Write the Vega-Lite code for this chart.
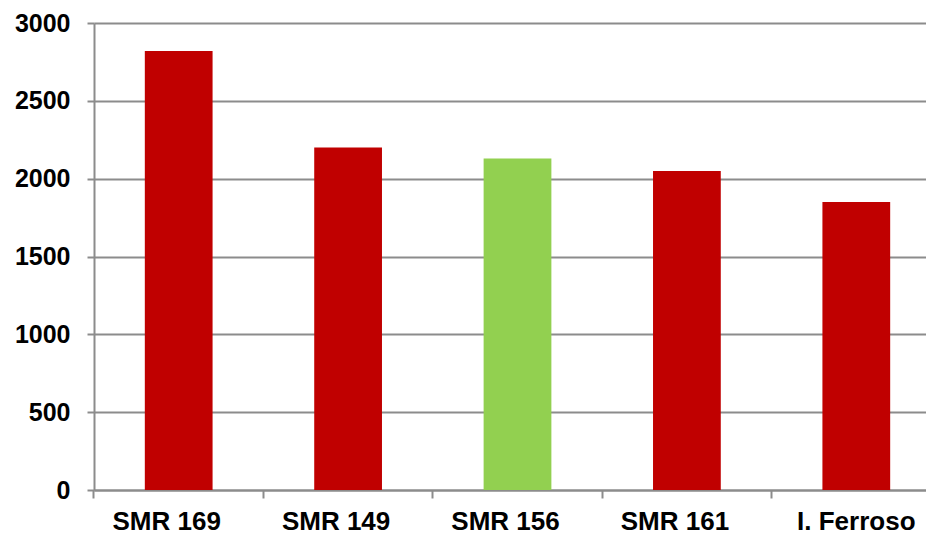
{
  "$schema": "https://vega.github.io/schema/vega-lite/v6.json",
  "autosize": "none",
  "width": 832,
  "height": 467,
  "padding": {"left": 94, "top": 23, "right": 0, "bottom": 44},
  "background": "white",
  "data": {
    "values": [
      {"variedade": "SMR 169", "valor": 2820, "grupo": "outras"},
      {"variedade": "SMR 149", "valor": 2200, "grupo": "outras"},
      {"variedade": "SMR 156", "valor": 2130, "grupo": "destaque"},
      {"variedade": "SMR 161", "valor": 2050, "grupo": "outras"},
      {"variedade": "I. Ferroso", "valor": 1850, "grupo": "outras"}
    ]
  },
  "config": {
    "view": {"stroke": null},
    "axis": {
      "labelFont": "Liberation Sans",
      "labelFontWeight": "bold",
      "labelColor": "#000000",
      "domainColor": "#8c8c8c",
      "domainWidth": 2,
      "tickColor": "#8c8c8c",
      "tickWidth": 2,
      "gridColor": "#8c8c8c",
      "gridWidth": 2,
      "gridOpacity": 1,
      "title": null
    }
  },
  "mark": {"type": "bar"},
  "encoding": {
    "x": {
      "field": "variedade",
      "type": "nominal",
      "sort": null,
      "scale": {"range": [0, 847], "paddingInner": 0.6, "paddingOuter": 0.3},
      "axis": {
        "labelAngle": 0,
        "labelFontSize": 26,
        "bandPosition": -0.75,
        "labelOffset": {"condition": {"test": "datum.value === 'I. Ferroso'", "value": 0}, "value": -12},
        "tickSize": 8,
        "labelPadding": 10,
        "grid": false
      }
    },
    "y": {
      "field": "valor",
      "type": "quantitative",
      "scale": {"domain": [0, 3000], "nice": false},
      "axis": {
        "values": [0, 500, 1000, 1500, 2000, 2500, 3000],
        "format": "d",
        "labelFontSize": 25,
        "tickSize": 7,
        "labelPadding": 17,
        "grid": true
      }
    },
    "color": {
      "field": "grupo",
      "type": "nominal",
      "scale": {"domain": ["outras", "destaque"], "range": ["#c00000", "#92d050"]},
      "legend": null
    }
  }
}
